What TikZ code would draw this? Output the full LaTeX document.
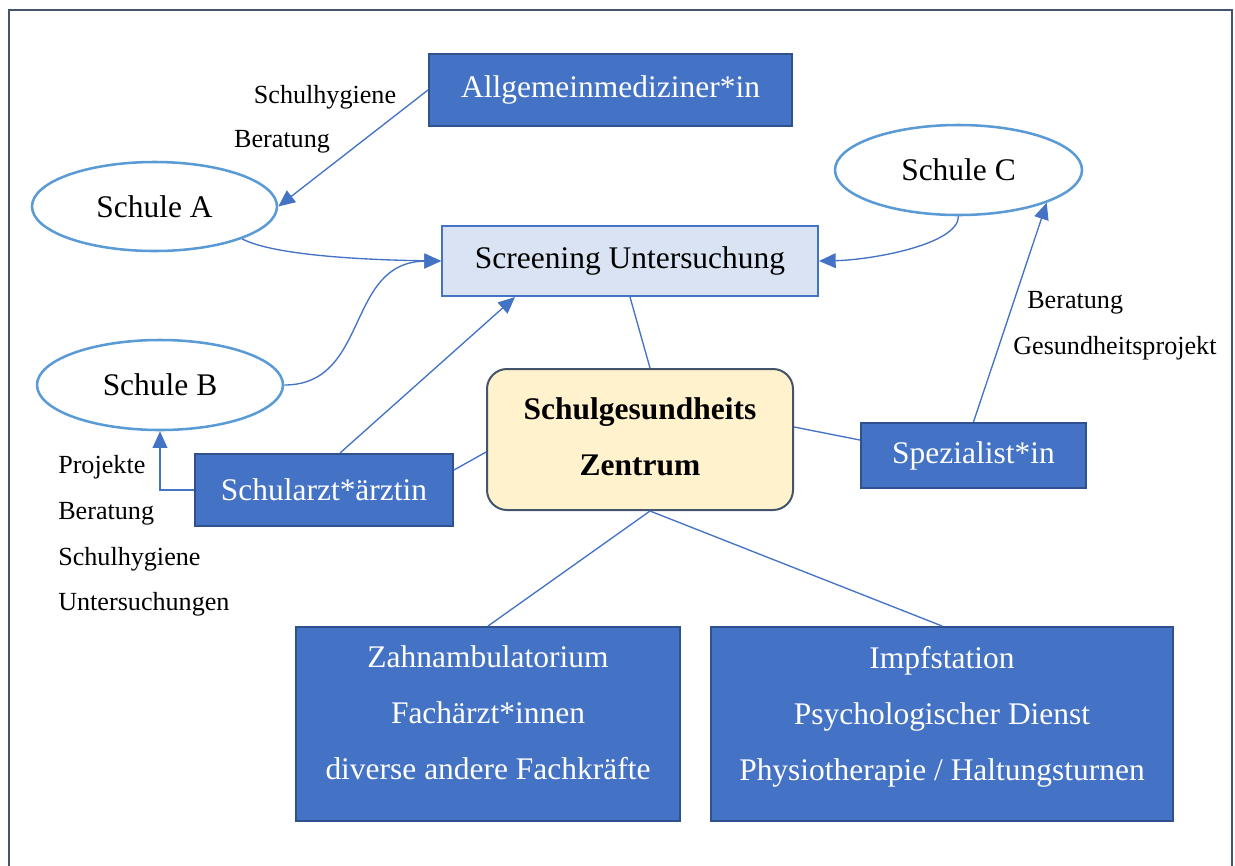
\documentclass[tikz,border=0pt]{standalone}
\usepackage{fontspec}
\setmainfont{Liberation Serif}
\usetikzlibrary{arrows.meta,calc,shapes.geometric}
\definecolor{mainblue}{HTML}{4472C4}
\definecolor{darkblue}{HTML}{2F528F}
\definecolor{lightblue}{HTML}{DAE3F3}
\definecolor{ellblue}{HTML}{5B9BD5}
\definecolor{framegray}{HTML}{44546A}
\definecolor{cream}{HTML}{FFF2CC}
\tikzset{
  bigfont/.style={font=\fontsize{23.6}{42}\selectfont},
  smallfont/.style={font=\fontsize{19.6}{34}\selectfont},
  bluebox/.style={draw=darkblue,line width=1.5pt,fill=mainblue,text=white,inner sep=0pt,bigfont},
  schoolell/.style={draw=ellblue,line width=1.9pt,ellipse,fill=white,inner sep=0pt,bigfont},
  conn/.style={draw=mainblue,line width=1pt},
  arr/.style={conn,-{Triangle[length=12.5pt,width=11pt]}},
  lbl/.style={smallfont,inner sep=0pt,align=left}
}
\begin{document}
\begin{tikzpicture}[x=0.75pt,y=-0.75pt]
\useasboundingbox (0,0) rectangle (1235,865);
\clip (0,0) rectangle (1235,865);
\fill[white] (0,0) rectangle (1235,865);
\draw[framegray,line width=1.5pt] (9,10) rectangle (1232,900);

% nodes
\node[bluebox,minimum width=272.25pt,minimum height=54pt] (allg) at (610.5,90) {Allgemeinmediziner*in};
\node[draw=mainblue,line width=1.5pt,fill=lightblue,inner sep=0pt,bigfont,minimum width=282pt,minimum height=52.5pt] (scr) at (630,261) {Screening Untersuchung};
\node[schoolell,minimum width=183.75pt,minimum height=66.75pt] (sa) at (154.5,206.5) {Schule A};
\node[schoolell,minimum width=185.25pt,minimum height=67.5pt] (sc) at (958.5,170) {Schule C};
\node[schoolell,minimum width=184.5pt,minimum height=67.5pt] (sb) at (160,385) {Schule B};
\node[bluebox,minimum width=193.5pt,minimum height=54pt] (arzt) at (324,490) {Schularzt*ärztin};
\node[draw=framegray,line width=1.5pt,fill=cream,rounded corners=15pt,minimum width=229.5pt,minimum height=105.75pt] (zen) at (640,439.5) {};
\node[align=center,inner sep=0pt,font=\fontsize{23.6}{42}\selectfont\bfseries] (zentxt) at (640,436.5) {Schulgesundheits\\Zentrum};
\node[bluebox,minimum width=168.75pt,minimum height=48.75pt] (spez) at (973.5,455.5) {Spezialist*in};
\node[bluebox,minimum width=288pt,minimum height=145.5pt] (zahn) at (488,724) {};
\node[bluebox,minimum width=346.5pt,minimum height=145.5pt] (impf) at (942,724) {};
\node[bigfont,text=white,align=center,inner sep=0pt] (zahntxt) at (488,713) {Zahnambulatorium\\Fachärzt*innen\\diverse andere Fachkräfte};
\node[bigfont,text=white,align=center,inner sep=0pt] (impftxt) at (942,717) {Impfstation\\Psychologischer Dienst\\Physiotherapie / Haltungsturnen};

% labels
\node[lbl,anchor=center] (l1) at (325,97) {Schulhygiene};
\node[lbl,anchor=center] (l2) at (282,142) {Beratung};
\node[lbl,anchor=west] (l3) at (1027,303) {Beratung};
\node[lbl,anchor=west] (l4) at (1013,348) {Gesundheitsprojekt};
\node[lbl,anchor=west,font=\fontsize{19.6}{34.3}\selectfont] (l5) at (58,536) {Projekte\\Beratung\\Schulhygiene\\Untersuchungen};

% connectors
\draw[arr] (allg.west) -- (sa.east);
\draw[arr] (sa.south east) .. controls (275,256) and (370,260) .. (scr.west);
\draw[arr] (sb.east) .. controls (370,385) and (345,262) .. (scr.west);
\draw[arr] ([xshift=12pt]arzt.north) -- ([xshift=-86.25pt]scr.south);
\draw[conn] (scr.south) -- ([xshift=7.5pt]zen.north);
\draw[conn] ([yshift=15pt]arzt.east) -- ([yshift=-9.4pt]zen.west);
\draw[arr,line width=1.3pt] (arzt.west) -| (sb.south);
\draw[conn] ([yshift=9.4pt]zen.east) -- ([yshift=11.6pt]spez.west);
\draw[arr] (spez.north) -- (sc.south east);
\draw[arr] (sc.south) .. controls (958,245) and (870,260) .. (scr.east);
\draw[conn] ([xshift=7.5pt]zen.south) -- (zahn.north);
\draw[conn] ([xshift=7.5pt]zen.south) -- (impf.north);
\end{tikzpicture}
\end{document}
